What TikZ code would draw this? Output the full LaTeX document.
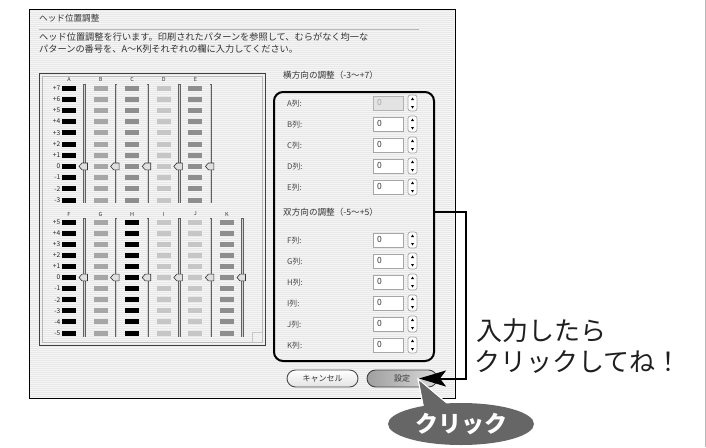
\documentclass[tikz,border=0pt]{standalone}
\usepackage{fontspec}
\setmainfont{Noto Sans CJK JP}
\usetikzlibrary{arrows.meta,shapes.geometric,calc}
\definecolor{winbg}{HTML}{F5F5F5}
\definecolor{stripe}{HTML}{E8E8E8}
\definecolor{uitext}{HTML}{333333}
\definecolor{lbltext}{HTML}{4A4A4A}
\definecolor{barB}{HTML}{A6A6A6}
\definecolor{barC}{HTML}{8E8E8E}
\definecolor{barD}{HTML}{C6C6C6}
\definecolor{callgray}{HTML}{666666}
\begin{document}
\begin{tikzpicture}[x=1pt,y=-1pt,
  uitxt/.style={inner sep=0pt, text=uitext, font=\fontsize{9.2}{11}\selectfont},
  grouptxt/.style={inner sep=0pt, text=uitext, font=\fontsize{8.6}{10}\selectfont, anchor=west},
  rowlbl/.style={inner sep=0pt, text=lbltext, font=\fontsize{7.8}{9}\selectfont, anchor=west},
  collbl/.style={inner sep=0pt, text=uitext, font=\fontsize{5.5}{6}\selectfont},
  numlbl/.style={inner sep=0pt, text=black!85, font=\fontsize{6.6}{7}\selectfont, anchor=east},
  slider/.style={draw=gray!75!black, line width=2.4},
  sliderin/.style={draw=gray!35, line width=1},
  knob/.style={fill=gray!25, draw=gray!40!black, line width=0.6},
  inbox/.style={draw=gray!70, fill=white, line width=0.7},
  stepbox/.style={draw=gray!70, fill=white, line width=0.7, rounded corners=2.5pt},
  btn/.style={minimum width=71pt, minimum height=17pt, rounded corners=8.5pt, line width=0.9, inner sep=0pt, text=uitext, font=\fontsize{8}{10}\selectfont},
  bigtxt/.style={inner sep=0pt, anchor=west, text=black!88, font=\fontsize{26}{28}\selectfont}
]
\useasboundingbox (0,0) rectangle (706,447);
\fill[white] (0,0) rectangle (706,447);
\draw[gray!55, line width=0.8] (705.4,0) -- (705.4,447);

% window
\fill[winbg] (29,9) rectangle (455,398);
\foreach \yy in {10,12,...,396} \draw[stripe, line width=0.6] (30,\yy) -- (454,\yy);
\node (win) [draw=black, line width=1.4, minimum width=426pt, minimum height=389pt, inner sep=0pt, anchor=north west] at (29,9) {};

\node[uitxt, anchor=west, font=\fontsize{8.6}{10}\selectfont] (title) at (39,18) {ヘッド位置調整};
\draw[gray!55, line width=0.6] (39,29) -- (419,29);
\node[uitxt, anchor=west] (desc1) at (39,37.5) {ヘッド位置調整を行います。印刷されたパターンを参照して、むらがなく均一な};
\node[uitxt, anchor=west] (desc2) at (39,49.5) {パターンの番号を、A〜K列それぞれの欄に入力してください。};

% pattern panel
\node (pat) [draw=black!75, line width=1, minimum width=226pt, minimum height=272pt, inner sep=0pt, anchor=north west] at (39,73) {};
\draw[gray!55, line width=0.6] (42,76) rectangle (262,342);
\fill[gray!12] (252,342) -- (262,332) -- (262,342) -- cycle;
\draw[gray!45, line width=0.5] (252,342) -- (252,332) -- (262,332);

% top group
\foreach \lb [count=\i from 0] in {+7,+6,+5,+4,+3,+2,+1,0,-1,-2,-3}
  \node[numlbl] (tn\i) at (60.5,88+11.2*\i) {\lb};
\foreach \cl/\col [count=\k from 0] in {A/black,B/barB,C/barC,D/barD,E/barC} {
  \pgfmathsetmacro\cx{69+31.6*\k}
  \pgfmathsetmacro\sx{\cx+15.5}
  \node[collbl] (tc\cl) at (\cx,79) {\cl};
  \foreach \i in {0,...,10}
    \fill[\col] (\cx-7,88+11.2*\i-2.5) rectangle ++(14,5);
  \draw[slider] (\sx,84) -- (\sx,203);
  \draw[sliderin] (\sx,84.5) -- (\sx,202.5);
  \draw[knob] (\sx-5.5,166.4) -- (\sx-2.5,163) -- (\sx+3,163) -- (\sx+3,169.8) -- (\sx-2.5,169.8) -- cycle;
}

% bottom group
\foreach \lb [count=\i from 0] in {+5,+4,+3,+2,+1,0,-1,-2,-3,-4,-5}
  \node[numlbl] (bn\i) at (60.5,222+11.1*\i) {\lb};
\foreach \cl/\col [count=\k from 0] in {F/black,G/barB,H/black,I/barD,J/barD,K/barC} {
  \pgfmathsetmacro\cx{69+31.6*\k}
  \pgfmathsetmacro\sx{\cx+15.5}
  \node[collbl] (bc\cl) at (\cx,214) {\cl};
  \foreach \i in {0,...,10}
    \fill[\col] (\cx-7,222+11.1*\i-2.5) rectangle ++(14,5);
  \draw[slider] (\sx,218) -- (\sx,337);
  \draw[sliderin] (\sx,218.5) -- (\sx,336.5);
  \draw[knob] (\sx-5.5,277.5) -- (\sx-2.5,274.1) -- (\sx+3,274.1) -- (\sx+3,280.9) -- (\sx-2.5,280.9) -- cycle;
}

% right side
\node[grouptxt] (hlbl) at (283,75) {横方向の調整（-3〜+7）};
\node (adj) [draw=black, line width=2, rounded corners=9pt, minimum width=160pt, minimum height=269pt, inner sep=0pt, anchor=north west] at (273,91) {};
\node[grouptxt] (blbl) at (283,212) {双方向の調整（-5〜+5）};

\foreach \lt/\yy in {A/103,B/124,C/145,D/166,E/187,F/240,G/261,H/282,I/303,J/324,K/345} {
  \node[rowlbl] (lab\lt) at (287,\yy+1) {\lt 列:};
  \draw[inbox] (373,\yy-7) rectangle (403,\yy+7);
  \node[inner sep=0pt, anchor=west, text=uitext, font=\fontsize{8.5}{10}\selectfont] (val\lt) at (377,\yy-0.5) {0};
  \draw[stepbox] (408,\yy-8) rectangle (417,\yy+8);
  \fill[black] (412.5,\yy-5.5) -- (411,\yy-3) -- (414,\yy-3) -- cycle;
  \fill[black] (412.5,\yy+5.5) -- (411,\yy+3) -- (414,\yy+3) -- cycle;
}
% disabled A field
\fill[gray!22] (373.5,96.5) rectangle (402.5,109.5);
\draw[gray!60, line width=0.8] (373,96) rectangle (403,110);
\node[inner sep=0pt, anchor=west, text=gray!70, font=\fontsize{8.5}{10}\selectfont] at (377,102.5) {0};

% buttons
\node (cancel) [btn, draw=gray!60!black, top color=white, bottom color=gray!22] at (322.5,378.5) {キャンセル};
\node (set) [btn, minimum width=70pt, draw=gray!50!black, left color=gray!75, right color=gray!30] at (402,378.5) {設定};

% bracket arrow
\coordinate (tip) at (419,378.5);
\draw[line width=2, -{Stealth[length=27pt,width=16pt,inset=6pt]}] (adj.east |- blbl) -- (466,212) |- (tip);

% callout
\filldraw[callgray, draw=white, line width=1.2] (418,379) -- (424,410) -- (448,404) -- cycle;
\node (click) [ellipse, fill=callgray, minimum width=146pt, minimum height=42pt, inner sep=0pt, text=white, font=\bfseries\fontsize{23}{25}\selectfont] at (461,424) {クリック};
\fill[callgray] (419.5,381) -- (425,409) -- (446,404) -- cycle;

% big text
\node[bigtxt] (t1) at (476,331) {入力したら};
\node[bigtxt] (t2) at (474,362) {クリックしてね！};
\end{tikzpicture}
\end{document}
